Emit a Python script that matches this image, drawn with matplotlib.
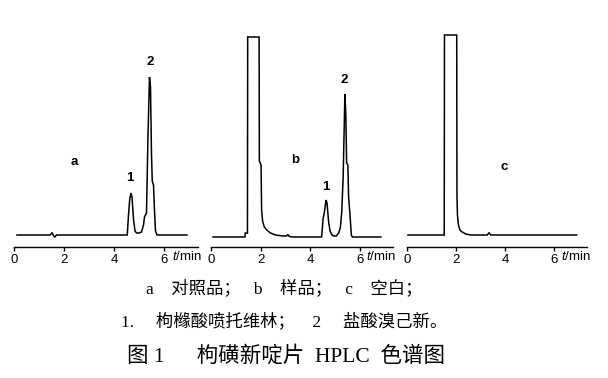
import matplotlib
matplotlib.use("Agg")
import matplotlib.pyplot as plt

plt.rcParams['font.family'] = ['Liberation Sans', 'DejaVu Sans']
plt.rcParams['mathtext.fontset'] = 'custom'
plt.rcParams['mathtext.it'] = 'Liberation Sans:italic'
plt.rcParams['mathtext.rm'] = 'Liberation Sans'

# chromatogram traces (time in min, signal in arbitrary units)
a_t = [0.12, 1.45, 1.52, 1.58, 1.63, 1.70, 4.53, 4.58, 4.63, 4.68, 4.72, 4.78,
       4.84, 4.90, 5.00, 5.10, 5.18, 5.22, 5.30, 5.36, 5.42, 5.46, 5.50, 5.53,
       5.58, 5.62, 5.66, 5.72, 6.92]
a_y = [0, 0, 1.2, -0.3, -1.0, 0, 0, 10, 18, 21, 19, 8,
       2, 1, 1, 1.5, 5, 9, 11, 50, 79, 74, 40, 27,
       25, 12, 2, 0, 0]

b_t = [0.08, 1.37, 1.38, 1.47, 1.48, 1.94, 1.95, 2.02, 2.04, 2.08, 2.15, 2.25,
       2.40, 2.60, 2.90, 3.05, 3.10, 3.15, 3.30, 4.46, 4.52, 4.58, 4.64, 4.68,
       4.74, 4.80, 4.88, 4.95, 5.05, 5.15, 5.22, 5.27, 5.33, 5.40, 5.44, 5.47,
       5.52, 5.55, 5.60, 5.66, 5.70, 6.85]
b_y = [0, 0, 2, 2, 100, 100, 38, 36, 14, 8, 5, 3.5,
       2, 1, 0.5, 0.5, 1.3, 0.3, 0, 0, 9, 13, 18.5, 17,
       8, 3, 1, 0.5, 0.5, 2, 5, 12, 30, 71.5, 60, 37,
       36, 20, 12, 1, 0, 0]

c_t = [0.04, 1.52, 1.53, 2.03, 2.04, 2.06, 2.10, 2.16, 2.25, 2.40, 2.60, 3.28,
       3.35, 3.42, 6.93]
c_y = [0, 0, 100, 100, 20, 10, 5, 2.5, 1.5, 0.5, 0, 0,
       1.2, 0, 0]

ticks = [0, 2, 4, 6]
xlabel = '$\\mathit{t}$/min'

# peak labels: (text, time, signal)
a_labels = [('2', 5.44, 86.5), ('1', 4.64, 28.5), ('a', 2.40, 36.5)]
b_labels = [('2', 5.36, 78.5), ('1', 4.64, 25), ('b', 3.39, 38.5)]
c_labels = [('c', 3.96, 34)]

caption1 = 'a    对照品；   b    样品；   c    空白；'
caption2 = '1.     枸橼酸喷托维林；    2     盐酸溴己新。'
title = '图 1      枸磺新啶片  HPLC  色谱图'

fig = plt.figure(figsize=(6.08, 3.78), dpi=100)

W, H = 608.0, 378.0
# pixel boxes: left, width, x-span, ylim, x of the t/min label
boxes = [
    (14, 184, 7.36, (-6, 102.5), 6.30),
    (211, 182, 7.34, (-5, 103.5), 6.24),
    (407, 180, 7.35, (-6, 102.5), 6.30),
]
traces = [(a_t, a_y), (b_t, b_y), (c_t, c_y)]
labels = [a_labels, b_labels, c_labels]

for (left, width, xmax, ylim, xl), (t, y), labs in zip(boxes, traces, labels):
    ax = fig.add_axes([left / W, (H - 247) / H, width / W, 217 / H])
    ax.plot(t, y, color='black', lw=1.1, solid_joinstyle='miter')
    ax.set_xlim(0, xmax)
    ax.set_ylim(*ylim)
    for s in ['top', 'right', 'left']:
        ax.spines[s].set_visible(False)
    ax.spines['bottom'].set_linewidth(1.0)
    ax.set_yticks([])
    ax.set_xticks(ticks)
    ax.tick_params(axis='x', direction='out', length=3.2, width=1.0,
                   pad=1.5, labelsize=9.5)
    ax.text(xl, -0.016, xlabel, transform=ax.get_xaxis_transform(),
            ha='left', va='top', fontsize=9.5, clip_on=False)
    for txt, tx, ty in labs:
        ax.text(tx, ty, txt, ha='center', va='center', fontsize=9.5,
                fontweight='bold')

cap_font = ['Liberation Serif', 'Noto Sans CJK SC']
fig.text(284 / W, 1 - 288.5 / H, caption1, ha='center', va='center',
         fontsize=12.5, family=cap_font)
fig.text(284 / W, 1 - 321 / H, caption2, ha='center', va='center',
         fontsize=12.5, family=cap_font)
fig.text(286 / W, 1 - 356 / H, title, ha='center', va='center',
         fontsize=15.5, family=cap_font)

fig.savefig('out.png', dpi=100)
